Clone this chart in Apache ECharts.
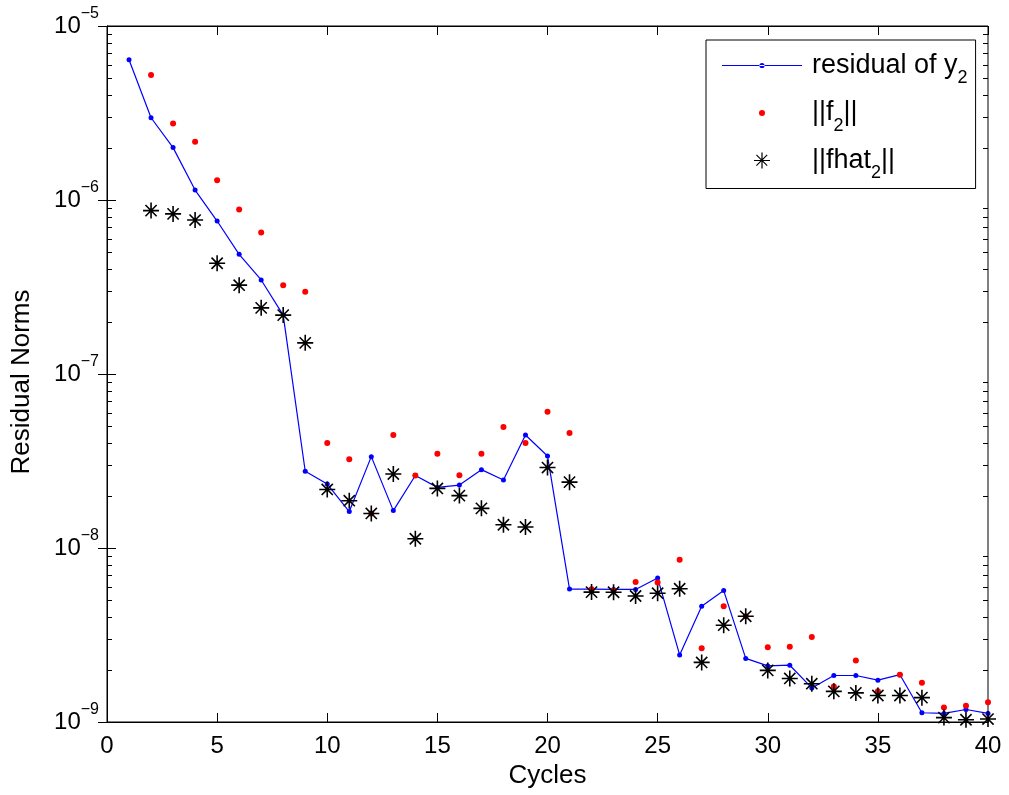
<!DOCTYPE html>
<html>
<head>
<meta charset="utf-8">
<script src="https://cdn.jsdelivr.net/npm/echarts@6/dist/echarts.min.js"></script>
<style>
html,body{margin:0;padding:0;background:#fff;}
#chart{width:1009px;height:795px;}
</style>
</head>
<body>
<div id="chart"></div>
<script>
// ---- data ----
const cyclesResidual = [1,2,3,4,5,6,7,8,9,10,11,12,13,14,15,16,17,18,19,20,21,22,23,24,25,26,27,28,29,30,31,32,33,34,35,36,37,38,39,40];
const residualY2 = [6.4e-6,2.97e-6,2.0e-6,1.14e-6,7.57e-7,4.87e-7,3.47e-7,2.18e-7,2.76e-8,2.33e-8,
  1.62e-8,3.35e-8,1.64e-8,2.61e-8,2.23e-8,2.30e-8,2.82e-8,2.46e-8,4.46e-8,3.38e-8,
  5.81e-9,5.80e-9,5.78e-9,5.78e-9,6.73e-9,2.43e-9,4.62e-9,5.69e-9,2.32e-9,2.10e-9,
  2.12e-9,1.57e-9,1.85e-9,1.85e-9,1.74e-9,1.87e-9,1.13e-9,1.12e-9,1.18e-9,1.12e-9];
const cyclesF = [2,3,4,5,6,7,8,9,10,11,12,13,14,15,16,17,18,19,20,21,22,23,24,25,26,27,28,29,30,31,32,33,34,35,36,37,38,39,40];
const normF2 = [5.23e-6,2.75e-6,2.16e-6,1.30e-6,8.83e-7,6.51e-7,3.24e-7,2.97e-7,
  4.01e-8,3.24e-8,1.58e-8,4.46e-8,2.61e-8,3.48e-8,2.62e-8,3.48e-8,4.96e-8,4.01e-8,
  6.07e-8,4.58e-8,5.8e-9,5.7e-9,6.38e-9,6.33e-9,8.57e-9,2.65e-9,4.62e-9,4.05e-9,
  2.69e-9,2.71e-9,3.08e-9,1.60e-9,2.26e-9,1.50e-9,1.87e-9,1.68e-9,1.21e-9,1.24e-9,1.30e-9];
const normFhat2 = [8.69e-7,8.32e-7,7.67e-7,4.33e-7,3.24e-7,2.40e-7,2.18e-7,1.51e-7,
  2.17e-8,1.87e-8,1.58e-8,2.66e-8,1.13e-8,2.20e-8,2.00e-8,1.69e-8,1.36e-8,1.32e-8,
  2.90e-8,2.39e-8,5.58e-9,5.57e-9,5.30e-9,5.5e-9,5.83e-9,2.20e-9,3.60e-9,4.05e-9,
  1.98e-9,1.78e-9,1.66e-9,1.50e-9,1.47e-9,1.42e-9,1.42e-9,1.38e-9,1.06e-9,1.03e-9,1.04e-9];
const seriesNames = ['residual of y2', '||f2||', '||fhat2||'];
const legendLabels = {
  'residual of y2': '{b|residual of y}{s|2}',
  '||f2||': '{b|||f}{s|2}{b|||}',
  '||fhat2||': '{b|||fhat}{s|2}{b|||}'
};
const xLabel = 'Cycles';
const yLabel = 'Residual Norms';
const yMin = 1e-9, yMax = 1e-5;
const xMin = 0, xMax = 40, xInterval = 5;

// minor tick values (2..9 of each decade)
const minorTickValues = [];
for (let e = -9; e < -5; e++) {
  for (let m = 2; m <= 9; m++) minorTickValues.push(m * Math.pow(10, e));
}

const FONT = "'Liberation Sans', Arial, sans-serif";
const starPath = 'path://M45 0 L55 0 L55 100 L45 100 Z M0 45 L100 45 L100 55 L0 55 Z ' +
  'M18.5 11.5 L88.5 81.5 L81.5 88.5 L11.5 18.5 Z M81.5 11.5 L88.5 18.5 L18.5 88.5 L11.5 81.5 Z';
const corners = 'M0 0 L0.01 0 L0 0.01 Z M85 16 L84.99 16 L85 15.99 Z ';
const iconLine = 'path://' + corners + 'M0 7.4 L80 7.4 L80 8.6 L0 8.6 Z M37.4 8 A2.6 2.6 0 1 0 42.6 8 A2.6 2.6 0 1 0 37.4 8 Z';
const iconDot = 'path://' + corners + 'M37 8 A3 3 0 1 0 43 8 A3 3 0 1 0 37 8 Z';
const iconStar = 'path://' + corners +
  'M39.4 0 L40.6 0 L40.6 16 L39.4 16 Z M32 7.4 L48 7.4 L48 8.6 L32 8.6 Z ' +
  'M34.8 2.0 L45.6 12.8 L44.8 13.6 L34.0 2.8 Z M44.8 2.0 L45.6 2.8 L34.8 13.6 L34.0 12.8 Z';

const chart = echarts.init(document.getElementById('chart'), null, {renderer: 'canvas'});

function expLabel(v) {
  const e = Math.round(Math.log10(v));
  return '{b|10}{s|\u2212' + (-e) + '}';
}

const axisCommon = {
  axisLine: {show: true, lineStyle: {color: '#000', width: 1}},
  splitLine: {show: false},
  minorTick: {show: false}
};

const option = {
  animation: false,
  backgroundColor: '#fff',
  textStyle: {fontFamily: FONT},
  grid: {left: 107, right: 21, top: 26, bottom: 73, containLabel: false, outerBoundsMode: 'none',
    show: true, borderColor: '#000', borderWidth: 1, backgroundColor: 'transparent'},
  legend: {
    data: [
      {name: seriesNames[0], icon: iconLine},
      {name: seriesNames[1], icon: iconDot},
      {name: seriesNames[2], icon: iconStar}
    ],
    orient: 'vertical',
    left: 706, top: 40,
    itemWidth: 85, itemHeight: 16, itemGap: 12,
    padding: [12, 8, 6, 16],
    borderColor: '#000', borderWidth: 1, backgroundColor: '#fff',
    itemStyle: {borderWidth: 0},
    selectedMode: false,
    formatter: name => legendLabels[name],
    textStyle: {
      color: '#000', fontFamily: FONT, fontSize: 27,
      rich: {
        b: {fontSize: 27, lineHeight: 44, verticalAlign: 'middle', color: '#000', fontFamily: FONT},
        s: {fontSize: 18, lineHeight: 44, verticalAlign: 'bottom', color: '#000', fontFamily: FONT}
      }
    }
  },
  xAxis: [
    Object.assign({
      type: 'value', min: xMin, max: xMax, interval: xInterval, position: 'bottom',
      name: xLabel, nameLocation: 'middle', nameGap: 41,
      nameTextStyle: {fontSize: 26, color: '#000', fontFamily: FONT},
      axisTick: {show: true, inside: true, length: 9, lineStyle: {color: '#000'}},
      axisLabel: {fontSize: 24, lineHeight: 24, color: '#000', margin: 12, fontFamily: FONT}
    }, axisCommon),
    Object.assign({
      type: 'value', min: xMin, max: xMax, interval: xInterval, position: 'top',
      axisTick: {show: true, inside: true, length: 9, lineStyle: {color: '#000'}},
      axisLabel: {show: false}
    }, axisCommon)
  ],
  yAxis: [
    Object.assign({
      type: 'log', logBase: 10, min: yMin, max: yMax, position: 'left',
      name: yLabel, nameLocation: 'middle', nameGap: 72, nameRotate: 90,
      nameTextStyle: {fontSize: 26, color: '#000', fontFamily: FONT, padding: [0, 16, 0, 0]},
      axisTick: {show: true, inside: true, length: 9, lineStyle: {color: '#000'}},
      axisLabel: {
        margin: 8, formatter: expLabel,
        rich: {
          b: {fontSize: 24, lineHeight: 40, verticalAlign: 'middle', color: '#000', fontFamily: FONT},
          s: {fontSize: 16, lineHeight: 40, verticalAlign: 'top', color: '#000', fontFamily: FONT}
        }
      }
    }, axisCommon),
    Object.assign({
      type: 'log', logBase: 10, min: yMin, max: yMax, position: 'right',
      axisTick: {show: true, inside: true, length: 9, lineStyle: {color: '#000'}},
      axisLabel: {show: false}
    }, axisCommon)
  ],
  series: [
    {
      type: 'custom', name: 'minorTicks', silent: true, clip: false, z: 1,
      xAxisIndex: 0, yAxisIndex: 0,
      data: minorTickValues.map(v => [xMin, v]),
      renderItem: function (params, api) {
        const y = Math.round(api.coord([xMin, api.value(1)])[1]) + 0.5;
        const cs = params.coordSys;
        return {
          type: 'group',
          children: [
            {type: 'line', shape: {x1: cs.x, y1: y, x2: cs.x + 5, y2: y}, style: {stroke: '#000', lineWidth: 1}},
            {type: 'line', shape: {x1: cs.x + cs.width - 5, y1: y, x2: cs.x + cs.width, y2: y}, style: {stroke: '#000', lineWidth: 1}}
          ]
        };
      }
    },
    {
      type: 'line', name: seriesNames[0],
      data: cyclesResidual.map((c, i) => [c, residualY2[i]]),
      symbol: 'circle', symbolSize: 5, showAllSymbol: true,
      itemStyle: {color: '#0000ff'},
      lineStyle: {color: '#0000ff', width: 1.2},
      z: 2
    },
    {
      type: 'scatter', name: seriesNames[1],
      data: cyclesF.map((c, i) => [c, normF2[i]]),
      symbol: 'circle', symbolSize: 6,
      itemStyle: {color: '#ff0000', opacity: 1},
      z: 3
    },
    {
      type: 'scatter', name: seriesNames[2],
      data: cyclesF.map((c, i) => [c, normFhat2[i]]),
      symbol: starPath, symbolSize: 16, symbolKeepAspect: true,
      itemStyle: {color: '#000000', opacity: 1},
      z: 4
    }
  ]
};
chart.setOption(option);
</script>
</body>
</html>
